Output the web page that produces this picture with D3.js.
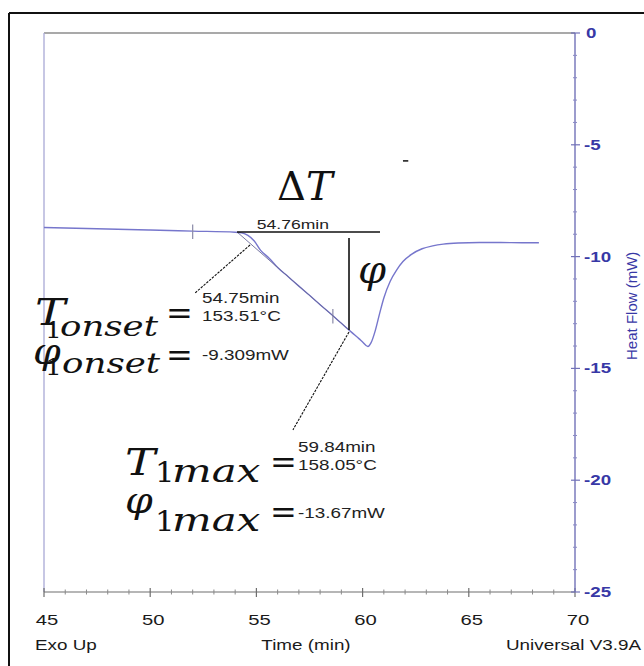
<!DOCTYPE html>
<html><head><meta charset="utf-8">
<script src="https://cdn.jsdelivr.net/npm/d3@7"></script>
<style>body{margin:0;background:#fff}svg{display:block}</style>
</head><body><svg id="c" width="644" height="666"></svg>
<script>
// ---- data ----
const time     = [45, 47, 50, 52, 54, 54.3, 54.6, 54.9, 55.2, 55.6, 56, 56.5, 57, 57.5, 58, 58.5, 59, 59.5, 59.84, 60, 60.25, 60.4, 60.6, 60.8, 61, 61.3, 61.6, 61.9, 62.3, 62.8, 63.3, 63.8, 64.5, 65.5, 66.5, 67.5, 68.3];
const heatFlow = [-8.70, -8.74, -8.81, -8.86, -8.91, -8.94, -9.05, -9.30, -9.72, -10.07, -10.49, -10.90, -11.32, -11.73, -12.15, -12.56, -12.98, -13.40, -13.68, -13.82, -14.02, -13.85, -13.30, -12.55, -11.85, -11.10, -10.60, -10.22, -9.90, -9.65, -9.52, -9.44, -9.39, -9.37, -9.37, -9.38, -9.38];
const xTicks = [45, 50, 55, 60, 65, 70];
const yTicks = [0, -5, -10, -15, -20, -25];
const xDomain = [45, 70];
const yDomain = [-25, 0];
// analysis marks on curve (time, value)
const curveMarks = [[52, -8.86], [58.6, -12.64]];
// baseline (ΔT) line, tangent and vertical φ line
const baseLine = [[54.09, -8.90], [60.82, -8.90]];
const tangent  = [[54.09, -8.90], [59.36, -13.28]];
const phiLine  = [[59.36, -9.17], [59.36, -13.28]];
const leaders  = [[[54.70, -9.48], [52.11, -11.63]], [[59.36, -13.37], [56.72, -17.75]]];
const onsetTexts = ["54.75min", "153.51°C", "-9.309mW"];
const onsetTextY = [-12.08, -12.88, -14.62];
const maxTexts   = ["59.84min", "158.05°C", "-13.67mW"];
const maxTextY   = [-18.74, -19.54, -21.69];
const baseText   = "54.76min";

const svg = d3.select("#c");
const W = 644, H = 666;
const x = d3.scaleLinear().domain(xDomain).range([44, 575]);
const y = d3.scaleLinear().domain(yDomain).range([592, 33]);

// helper for horizontally stretched text
function txt(str, px, py, o) {
  const g = svg.append("g").attr("transform", o.rotate ? `translate(${px},${py}) rotate(${o.rotate})` : `translate(${px},${py}) scale(${o.sx||1},1)`);
  return g.append("text")
    .attr("text-anchor", o.anchor || "start")
    .attr("font-family", o.family || "Arial, 'Liberation Sans', sans-serif")
    .attr("font-size", o.fs || 14)
    .attr("font-style", o.style || "normal")
    .attr("font-weight", o.weight || "normal")
    .attr("fill", o.fill || "#1a1a1a")
    .text(str);
}

// outer frame
svg.append("line").attr("x1", 9).attr("y1", 13).attr("x2", W).attr("y2", 13).attr("stroke", "#111").attr("stroke-width", 2);
svg.append("line").attr("x1", 9).attr("y1", 13).attr("x2", 9).attr("y2", H).attr("stroke", "#111").attr("stroke-width", 2);

// plot frame: top and left
svg.append("line").attr("x1", x(45)).attr("x2", x(70)).attr("y1", y(0)).attr("y2", y(0)).attr("stroke", "#8c8c8c").attr("stroke-width", 1.3);
svg.append("line").attr("x1", x(45)).attr("x2", x(45)).attr("y1", y(0)).attr("y2", y(-25)).attr("stroke", "#a9a9d6").attr("stroke-width", 1.3);

// bottom axis
const xMinor = d3.range(46, 70).filter(v => v % 5 !== 0);
const gx = svg.append("g").attr("transform", `translate(0,${y(-25)})`);
gx.append("line").attr("x1", x(45)).attr("x2", x(70)).attr("stroke", "#6e6e6e").attr("stroke-width", 1.2);
gx.selectAll(".mj").data(xTicks).join("line").attr("x1", d => x(d)).attr("x2", d => x(d)).attr("y1", -4).attr("y2", 5).attr("stroke", "#6e6e6e").attr("stroke-width", 1.2);
gx.selectAll(".mn").data(xMinor).join("line").attr("class", "mn").attr("x1", d => x(d)).attr("x2", d => x(d)).attr("y1", -2.5).attr("y2", 2.5).attr("stroke", "#8a8a8a").attr("stroke-width", 1);
xTicks.forEach(v => txt(String(v), x(v) + 3, 625, {fs: 15, sx: 1.35, anchor: "middle"}));

// right axis
const yMinor = d3.range(-24, 0).filter(v => v % 5 !== 0);
const gy = svg.append("g").attr("transform", `translate(${x(70)},0)`);
gy.append("line").attr("y1", y(0)).attr("y2", y(-25)).attr("stroke", "#7272b8").attr("stroke-width", 1.4);
gy.selectAll(".mj").data(yTicks).join("line").attr("y1", d => y(d)).attr("y2", d => y(d)).attr("x1", -4).attr("x2", 5).attr("stroke", "#7272b8").attr("stroke-width", 1.2);
gy.selectAll(".mn").data(yMinor).join("line").attr("class", "mn").attr("y1", d => y(d)).attr("y2", d => y(d)).attr("x1", -2).attr("x2", 2).attr("stroke", "#8a8ac4").attr("stroke-width", 1);
yTicks.forEach(v => txt(String(v), x(70) + (v === 0 ? 11 : 9), y(v) + 5, {fs: 15, sx: 1.25, fill: "#3838a6", weight: "bold"}));
txt("Heat Flow (mW)", 637, y(-12.2), {fs: 15, anchor: "middle", fill: "#3838a6", rotate: -90});

// bottom texts
txt("Exo Up", 35, 650, {fs: 14.5, sx: 1.3});
txt("Time (min)", 306, 650, {fs: 14.5, sx: 1.3, anchor: "middle"});
txt("Universal V3.9A", 641, 650, {fs: 14.5, sx: 1.3, anchor: "end"});

// curve
const pts = time.map((t, i) => [t, heatFlow[i]]);
svg.append("path").datum(pts)
  .attr("d", d3.line().x(d => x(d[0])).y(d => y(d[1])).curve(d3.curveMonotoneX))
  .attr("fill", "none").attr("stroke", "#7676cc").attr("stroke-width", 1.4);

// analysis marks on curve
svg.selectAll(".cm").data(curveMarks).join("line")
  .attr("x1", d => x(d[0])).attr("x2", d => x(d[0]))
  .attr("y1", d => y(d[1] + 0.3)).attr("y2", d => y(d[1] - 0.35))
  .attr("stroke", "#8a8aa8").attr("stroke-width", 1.2);

const seg = (a, b) => svg.append("line").attr("x1", x(a[0])).attr("y1", y(a[1])).attr("x2", x(b[0])).attr("y2", y(b[1]));
seg(tangent[0], tangent[1]).attr("stroke", "#6a6a9a").attr("stroke-width", 0.9);
seg(baseLine[0], baseLine[1]).attr("stroke", "#111").attr("stroke-width", 1.6);
seg(phiLine[0], phiLine[1]).attr("stroke", "#111").attr("stroke-width", 1.6);
leaders.forEach(l => seg(l[0], l[1]).attr("stroke", "#111").attr("stroke-width", 1.1).attr("stroke-dasharray", "2.5,1.2"));
seg([61.9, -5.72], [62.15, -5.72]).attr("stroke", "#111").attr("stroke-width", 1.5);

// value texts
txt(baseText, x(56.72), y(-8.78), {fs: 13.5, sx: 1.3, anchor: "middle", fill: "#222"});
onsetTexts.forEach((s, i) => txt(s, x(52.44), y(onsetTextY[i]), {fs: 14.5, sx: 1.3, fill: "#222"}));
maxTexts.forEach((s, i) => txt(s, x(56.96), y(maxTextY[i]), {fs: 14.5, sx: 1.3, fill: "#222"}));

// math labels
const MF = "'DejaVu Serif', 'Liberation Serif', serif";
function mtxt(str, t, v, fs, style, sx) {
  return txt(str, x(t), y(v), {family: MF, fill: "#111", fs: fs, style: style, sx: sx});
}
// ΔT
const dg = svg.append("g").attr("transform", `translate(${x(55.97)},${y(-7.47)})`);
const dt = dg.append("text").attr("font-family", MF).attr("font-size", 40).attr("fill", "#111");
dt.append("tspan").text("Δ");
dt.append("tspan").attr("font-style", "italic").text("T");
// φ near vertical line
mtxt("φ", 59.78, -11.18, 40, "italic", 1.0);
// T onset
mtxt("T", 44.58, -13.06, 38, "italic", 1.2);
mtxt("1", 45.05, -13.64, 22, "normal", 1.2);
mtxt("onset", 45.75, -13.55, 27, "italic", 1.32);
mtxt("=", 50.74, -13.0, 32, "normal", 1.0);
// φ onset
mtxt("φ", 44.48, -14.80, 36, "italic", 1.1);
mtxt("1", 45.05, -15.30, 22, "normal", 1.2);
mtxt("onset", 45.85, -15.21, 27, "italic", 1.32);
mtxt("=", 50.74, -14.89, 32, "normal", 1.0);
// T 1max
mtxt("T", 48.81, -19.77, 38, "italic", 1.2);
mtxt("1", 50.23, -20.08, 28, "normal", 1.1);
mtxt("max", 51.03, -20.08, 31, "italic", 1.35);
mtxt("=", 55.64, -19.68, 32, "normal", 1.0);
// φ 1max
mtxt("φ", 48.81, -21.47, 36, "italic", 1.1);
mtxt("1", 50.23, -22.27, 28, "normal", 1.1);
mtxt("max", 51.03, -22.27, 31, "italic", 1.35);
mtxt("=", 55.64, -21.9, 32, "normal", 1.0);
</script></body></html>
